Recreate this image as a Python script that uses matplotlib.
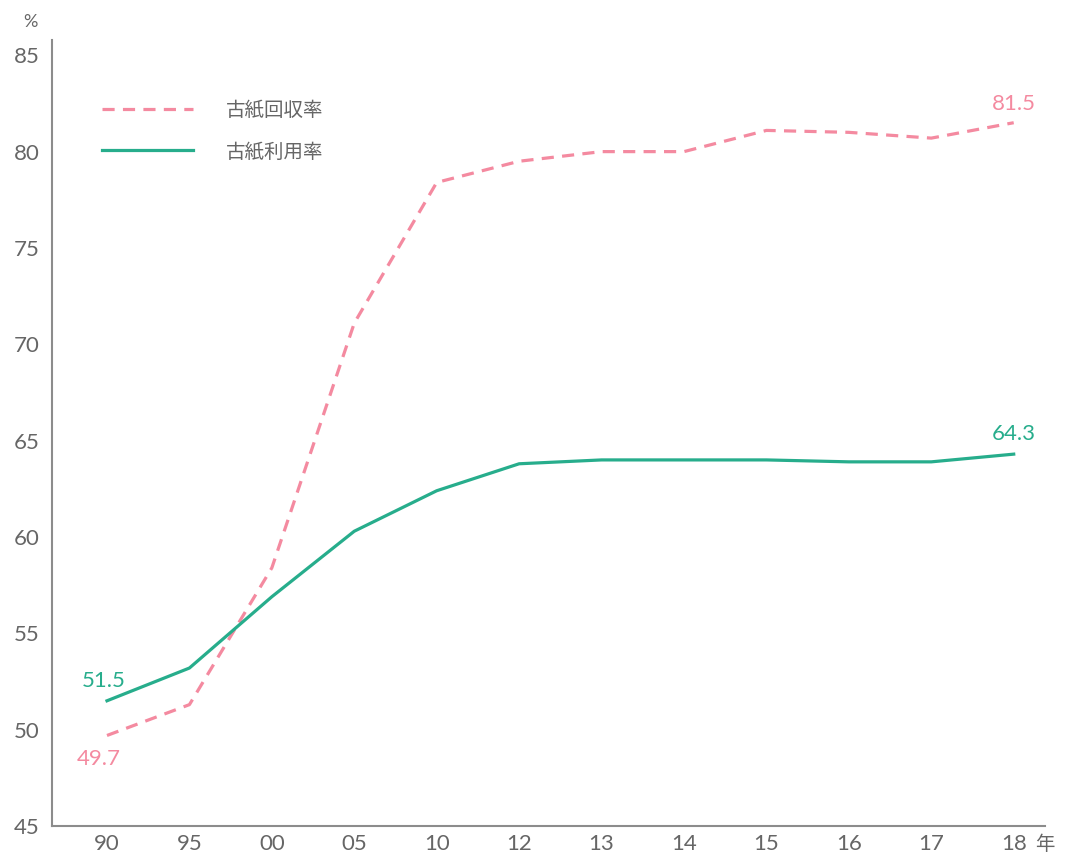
import matplotlib
matplotlib.use("Agg")
import matplotlib.pyplot as plt

plt.rcParams['font.family'] = ['Lato', 'Noto Sans CJK JP', 'DejaVu Sans']

# Data
years = ["90", "95", "00", "05", "10", "12", "13", "14", "15", "16", "17", "18"]
recovery_rate = [49.7, 51.3, 58.4, 71.1, 78.4, 79.5, 80.0, 80.0, 81.1, 81.0, 80.7, 81.5]
utilization_rate = [51.5, 53.2, 56.9, 60.3, 62.4, 63.8, 64.0, 64.0, 64.0, 63.9, 63.9, 64.3]
y_ticks = [45, 50, 55, 60, 65, 70, 75, 80, 85]

PINK = "#f48aa0"
GREEN = "#27ad8c"
GRAY_TEXT = "#666666"
AXIS_GRAY = "#8c8c8c"
CJK = ['Noto Sans CJK JP', 'DejaVu Sans']

fig = plt.figure(figsize=(10.68, 8.56), dpi=100)
ax = fig.add_axes([0.0487, 0.035, 0.9298, 0.918])

x = list(range(len(years)))
ax.plot(x, recovery_rate, color=PINK, lw=2.3, dashes=(3.8, 2.6),
        solid_capstyle="butt", label="古紙回収率")
ax.plot(x, utilization_rate, color=GREEN, lw=2.3, label="古紙利用率")

ax.set_xlim(-0.667, 11.38)
ax.set_ylim(45, 85.78)
ax.set_xticks(x)
ax.set_xticklabels(years)
ax.set_yticks(y_ticks)

for side in ("top", "right"):
    ax.spines[side].set_visible(False)
for side in ("left", "bottom"):
    ax.spines[side].set_color(AXIS_GRAY)
    ax.spines[side].set_linewidth(1.5)

ax.tick_params(axis="both", length=0, labelsize=16, colors=GRAY_TEXT)
ax.tick_params(axis="y", pad=9)
ax.tick_params(axis="x", pad=6)

# Unit labels
fig.text(30 / 1068, 1 - 22 / 856, "%", ha="center", va="center",
         fontsize=13, color=GRAY_TEXT)
fig.text(1045 / 1068, 1 - 845 / 856, "年", ha="center", va="center",
         fontsize=14, color=GRAY_TEXT, family=CJK)

# End-point value labels
ax.annotate(f"{utilization_rate[0]}", (0, utilization_rate[0]), xytext=(-2, 7),
            textcoords="offset points", ha="center", va="bottom",
            fontsize=16, color=GREEN)
ax.annotate(f"{recovery_rate[0]}", (0, recovery_rate[0]), xytext=(-6, -10),
            textcoords="offset points", ha="center", va="top",
            fontsize=16, color=PINK)
ax.annotate(f"{recovery_rate[-1]}", (11, recovery_rate[-1]), xytext=(0, 6),
            textcoords="offset points", ha="center", va="bottom",
            fontsize=16, color=PINK)
ax.annotate(f"{utilization_rate[-1]}", (11, utilization_rate[-1]), xytext=(0, 7),
            textcoords="offset points", ha="center", va="bottom",
            fontsize=16, color=GREEN)

leg = ax.legend(loc="upper left", bbox_to_anchor=(0.043, 0.934), frameon=False,
                prop={'family': CJK, 'size': 14}, handlelength=4.64,
                handletextpad=1.7, labelspacing=1.05, borderaxespad=0)
for t in leg.get_texts():
    t.set_color(GRAY_TEXT)

fig.savefig("out.png", dpi=100, facecolor="white")
